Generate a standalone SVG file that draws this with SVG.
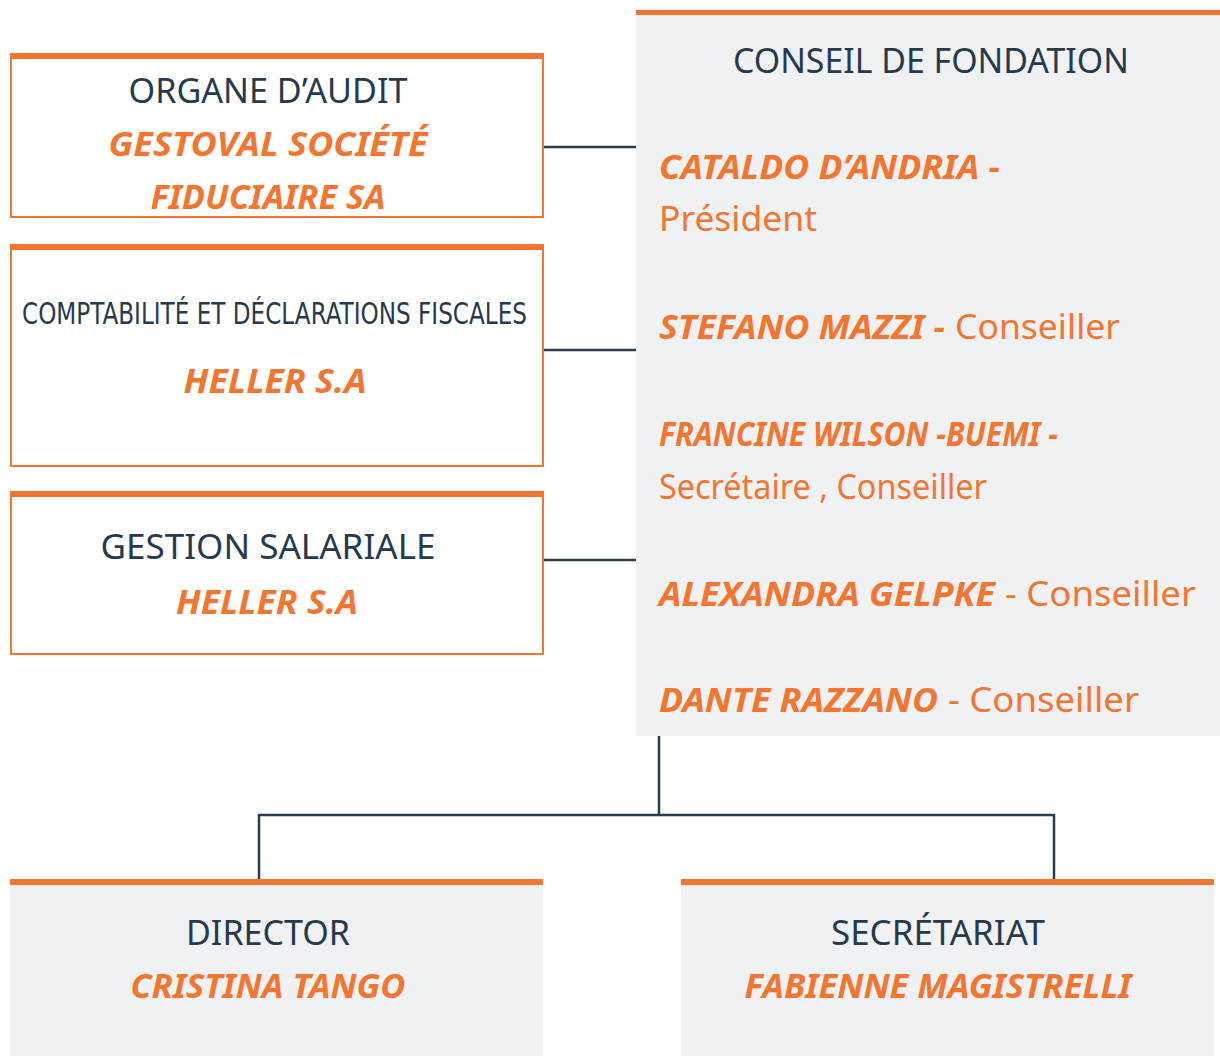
<svg xmlns="http://www.w3.org/2000/svg" width="1220" height="1056" viewBox="0 0 1220 1056">
<style>
.box{fill:#ffffff;stroke:#f47530;stroke-width:2}
.panel{fill:#f0f1f3}
.bar{fill:#f47530}
.conn{stroke:#2b3d4f;stroke-width:2.5;fill:none}
.t{font-family:"Noto Sans","Open Sans","Liberation Sans",sans-serif;font-size:34px;fill:#263a4d}
.tc{font-family:"DejaVu Sans Condensed","Liberation Sans Narrow","Noto Sans",sans-serif;font-stretch:condensed;font-size:31px;fill:#263a4d}
.o{font-family:"Noto Sans","Open Sans","Liberation Sans",sans-serif;font-size:34px;fill:#f47530;font-weight:bold;font-style:italic}
.r{font-family:"Noto Sans","Open Sans","Liberation Sans",sans-serif;font-size:34px;fill:#f47530}
.ob{font-weight:bold;font-style:italic}
</style>
<rect width="1220" height="1056" fill="#ffffff"/>
<g id="connectors">
<line class="conn" x1="543" y1="147" x2="637" y2="147"/>
<line class="conn" x1="543" y1="350" x2="637" y2="350"/>
<line class="conn" x1="543" y1="560" x2="637" y2="560"/>
<polyline class="conn" points="659,736 659,815"/>
<polyline class="conn" points="259,880 259,815 1054,815 1054,880"/>
</g>
<g id="organe-audit">
<rect class="box" x="11" y="57" width="532" height="160"/>
<rect class="bar" x="10" y="53" width="534" height="6"/>
<text class="t" x="268" y="103" text-anchor="middle" textLength="279" lengthAdjust="spacingAndGlyphs">ORGANE D’AUDIT</text>
<text class="o" x="268" y="156" text-anchor="middle" textLength="319" lengthAdjust="spacingAndGlyphs">GESTOVAL SOCIÉTÉ</text>
<text class="o" x="268" y="209" text-anchor="middle" textLength="235" lengthAdjust="spacingAndGlyphs">FIDUCIAIRE SA</text>
</g>
<g id="comptabilite">
<rect class="box" x="11" y="248" width="532" height="218"/>
<rect class="bar" x="10" y="244" width="534" height="6"/>
<text class="tc" x="22" y="324" textLength="505" lengthAdjust="spacingAndGlyphs">COMPTABILITÉ ET DÉCLARATIONS FISCALES</text>
<text class="o" x="275" y="393" text-anchor="middle" textLength="183" lengthAdjust="spacingAndGlyphs">HELLER S.A</text>
</g>
<g id="gestion-salariale">
<rect class="box" x="11" y="495" width="532" height="159"/>
<rect class="bar" x="10" y="491" width="534" height="6"/>
<text class="t" x="268" y="559" text-anchor="middle" textLength="335" lengthAdjust="spacingAndGlyphs">GESTION SALARIALE</text>
<text class="o" x="267" y="614" text-anchor="middle" textLength="182" lengthAdjust="spacingAndGlyphs">HELLER S.A</text>
</g>
<g id="conseil">
<rect class="panel" x="636" y="10" width="584" height="726"/>
<rect class="bar" x="636" y="10" width="584" height="5"/>
<text class="t" x="931" y="73" text-anchor="middle" textLength="396" lengthAdjust="spacingAndGlyphs">CONSEIL DE FONDATION</text>
<text class="o" x="659" y="179" textLength="341" lengthAdjust="spacingAndGlyphs">CATALDO D’ANDRIA -</text>
<text class="r" x="659" y="231" textLength="158" lengthAdjust="spacingAndGlyphs">Président</text>
<text class="r" x="659" y="339"><tspan class="ob" textLength="286" lengthAdjust="spacingAndGlyphs">STEFANO MAZZI -</tspan><tspan x="955" textLength="165" lengthAdjust="spacingAndGlyphs">Conseiller</tspan></text>
<text class="o" x="659" y="446" textLength="399" lengthAdjust="spacingAndGlyphs">FRANCINE WILSON -BUEMI -</text>
<text class="r" x="659" y="499" textLength="328" lengthAdjust="spacingAndGlyphs">Secrétaire , Conseiller</text>
<text class="r" x="659" y="606"><tspan class="ob" textLength="336" lengthAdjust="spacingAndGlyphs">ALEXANDRA GELPKE</tspan><tspan x="1005" textLength="191" lengthAdjust="spacingAndGlyphs">- Conseiller</tspan></text>
<text class="r" x="659" y="712"><tspan class="ob" textLength="279" lengthAdjust="spacingAndGlyphs">DANTE RAZZANO</tspan><tspan x="948" textLength="191" lengthAdjust="spacingAndGlyphs">- Conseiller</tspan></text>
</g>
<g id="director">
<rect class="panel" x="10" y="880" width="533" height="176"/>
<rect class="bar" x="10" y="879" width="533" height="6"/>
<text class="t" x="268" y="945" text-anchor="middle" textLength="164" lengthAdjust="spacingAndGlyphs">DIRECTOR</text>
<text class="o" x="268" y="998" text-anchor="middle" textLength="275" lengthAdjust="spacingAndGlyphs">CRISTINA TANGO</text>
</g>
<g id="secretariat">
<rect class="panel" x="681" y="880" width="533" height="176"/>
<rect class="bar" x="681" y="879" width="533" height="6"/>
<text class="t" x="938" y="945" text-anchor="middle" textLength="214" lengthAdjust="spacingAndGlyphs">SECRÉTARIAT</text>
<text class="o" x="938" y="998" text-anchor="middle" textLength="387" lengthAdjust="spacingAndGlyphs">FABIENNE MAGISTRELLI</text>
</g>
</svg>
